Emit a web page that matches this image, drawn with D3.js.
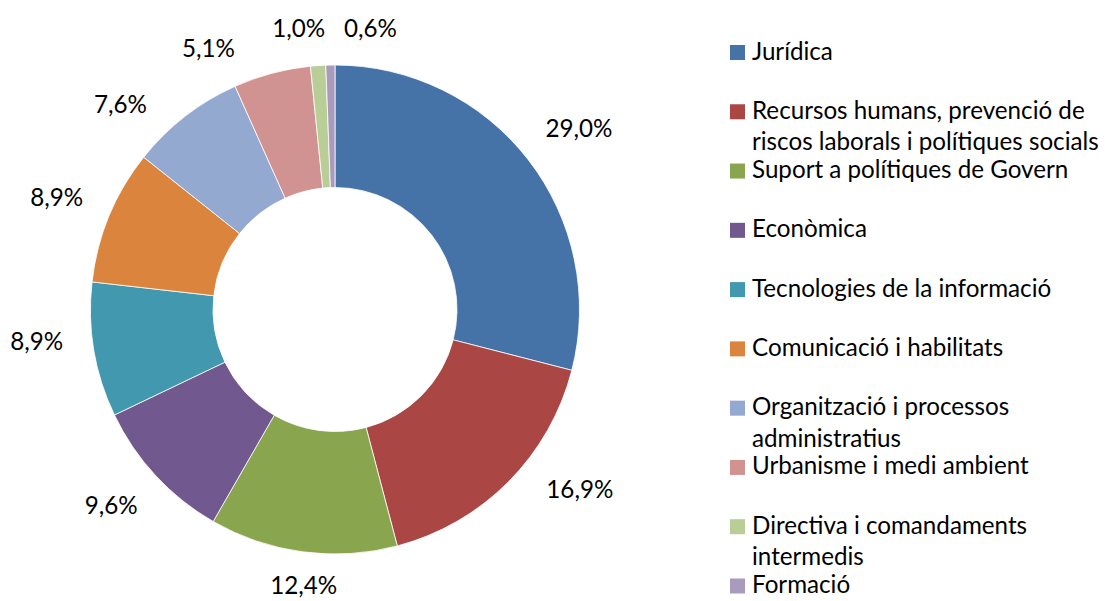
<!DOCTYPE html>
<html>
<head>
<meta charset="utf-8">
<script src="https://cdn.jsdelivr.net/npm/d3@7"></script>
<style>
  body { margin: 0; background: #fff; }
  text { font-family: Lato, "Open Sans", sans-serif; fill: #000; }
</style>
</head>
<body>
<div id="chart"></div>
<script>
var categories = ["Jurídica",
                  "Recursos humans, prevenció de riscos laborals i polítiques socials",
                  "Suport a polítiques de Govern",
                  "Econòmica",
                  "Tecnologies de la informació",
                  "Comunicació i habilitats",
                  "Organització i processos administratius",
                  "Urbanisme i medi ambient",
                  "Directiva i comandaments intermedis",
                  "Formació"];
var shares = [29.0, 16.9, 12.4, 9.6, 8.9, 8.9, 7.6, 5.1, 1.0, 0.6];
var colorMap = ["#4572A7", "#AA4643", "#89A54E", "#71588F", "#4198AF",
                "#DB843D", "#93A9CF", "#D19392", "#B9CD96", "#A99BBD"];

var svg_dx = 1112, svg_dy = 601,
    cx = 335, cy = 309.5,
    rOut = 244.5, rIn = 122,
    fontSize = 24.2;

// labels were dragged by hand in the original, small angular nudges (degrees)
var labelNudge = [1.2, -8.5, -1.2, 1.7, 3.4, -0.6, -8.5, -10.9, -3.4, 8.3];

var color = d3.scaleOrdinal().domain(categories).range(colorMap);
var fmt = d3.formatLocale({decimal: ",", thousands: ".", grouping: [3], currency: ["", "€"]}).format(".1f");

var svg = d3.select("#chart")
            .append("svg")
            .attr("width", svg_dx)
            .attr("height", svg_dy);

var pie = d3.pie().sort(null).value(d => d.v);
var arc = d3.arc().innerRadius(rIn).outerRadius(rOut);
var arcs = pie(categories.map((c, i) => ({c: c, v: shares[i], i: i})));

var g = svg.append("g").attr("transform", "translate(" + cx + "," + cy + ")");

g.selectAll("path")
 .data(arcs)
 .enter()
 .append("path")
 .attr("d", arc)
 .style("fill", d => color(d.data.c))
 .style("stroke", "#fff")
 .style("stroke-width", 0.8);

// percent labels outside the ring
g.selectAll("text.pct")
 .data(arcs)
 .enter()
 .append("text")
 .attr("class", "pct")
 .attr("text-anchor", "middle")
 .attr("dy", "0.35em")
 .style("font-size", fontSize + "px")
 .text(d => fmt(d.data.v) + "%")
 .each(function(d) {
     var a = (d.startAngle + d.endAngle) / 2 + labelNudge[d.data.i] * Math.PI / 180,
         hw = this.getComputedTextLength() / 2,
         s = Math.sin(a), c = Math.cos(a),
         dist = rOut + 28.6 + hw * Math.abs(s) + 6.4 * Math.abs(c),
         y = Math.min(-dist * c, svg_dy - cy - 15);   // keep inside the picture
     d3.select(this).attr("x", dist * s).attr("y", y);
 });

// legend
var legY = d3.scaleLinear().domain([0, categories.length - 1]).range([52.5, 586]),
    legX = 730, maxW = 360, lineH = 31.5;

var leg = svg.selectAll("g.leg")
             .data(categories)
             .enter()
             .append("g")
             .attr("class", "leg")
             .attr("transform", (d, i) => "translate(" + legX + "," + legY(i) + ")");

leg.append("rect")
   .attr("x", 0)
   .attr("y", -7.5)
   .attr("width", 15)
   .attr("height", 15)
   .style("fill", d => color(d));

leg.each(function(d) {
    var t = d3.select(this).append("text")
              .attr("x", 22)
              .attr("y", 7)
              .style("font-size", fontSize + "px");
    var words = d.split(" "), line = [];
    var ts = t.append("tspan").attr("x", 22).attr("dy", 0);
    words.forEach(function(w) {
        line.push(w);
        ts.text(line.join(" "));
        if (ts.node().getComputedTextLength() > maxW && line.length > 1) {
            line.pop();
            ts.text(line.join(" "));
            line = [w];
            ts = t.append("tspan").attr("x", 22).attr("dy", lineH).text(w);
        }
    });
});
</script>
</body>
</html>
